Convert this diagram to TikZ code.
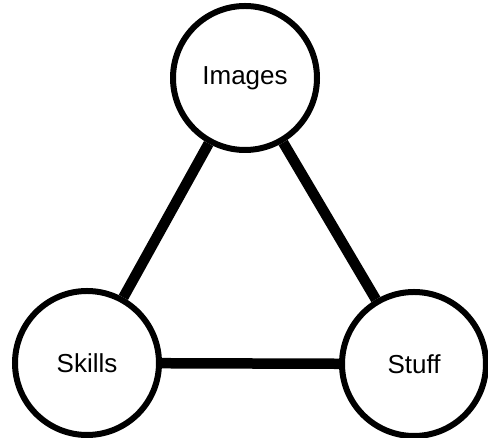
\documentclass[tikz,border=0pt]{standalone}
\usepackage{fontspec}
\setmainfont{Liberation Sans}
\usepackage{tikz}

\begin{document}
\begin{tikzpicture}[x=1pt,y=1pt,
                    topic/.style={circle,draw=black,line width=6,fill=white,minimum size=144,inner sep=0,font=\fontsize{26}{30}\selectfont},
                    link/.style={line width=10.5,black}
                    ]
    \def\W{488} % picture width
    \def\H{438} % picture height
    \useasboundingbox (0,0) rectangle (\W,\H);

    \node[topic] (images) at (245,360) {Images};
    \node[topic] (skills) at (87,75)   {Skills};
    \node[topic] (stuff)  at (414,74)  {Stuff};

    \draw[link] (images) -- (skills);
    \draw[link] (images) -- (stuff);
    \draw[link] (skills) -- (stuff);
\end{tikzpicture}
\end{document}
